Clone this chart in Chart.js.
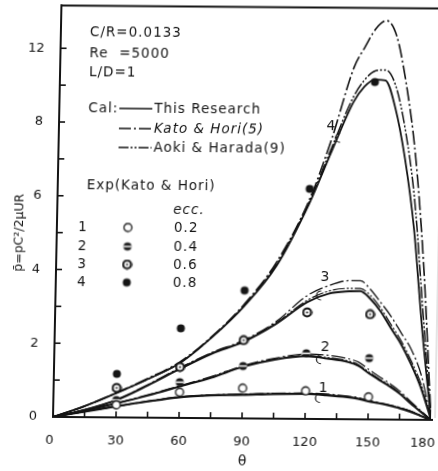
<!DOCTYPE html>
<html><head><meta charset="utf-8">
<script src="https://cdn.jsdelivr.net/npm/chart.js@4.4.0/dist/chart.umd.min.js"></script>
<style>
html,body{margin:0;padding:0;background:#fff;overflow:hidden;width:438px;height:471px;}
#wrap{position:absolute;left:0;top:0;width:438px;height:471px;transform-origin:53px 417px;transform:matrix(1,0.0079,-0.0205,1,0,0);}
canvas{display:block;}
</style></head><body>
<div id="wrap"><canvas id="c" width="438" height="471"></canvas></div>
<script>
// ---- data (theta in degrees, dimensionless pressure) ----
const thetaGrid = [0,15,30,45,60,75,90,105,120,130,140,145,150,155,160,165,170,175,180];

const thisResE1 = [0,0.15,0.30,0.44,0.56,0.62,0.64,0.67,0.68,0.65,0.60,0.56,0.49,0.44,0.38,0.31,0.22,0.11,0];
const katoE1    = [0,0.15,0.30,0.45,0.57,0.63,0.66,0.69,0.70,0.68,0.63,0.59,0.52,0.46,0.40,0.33,0.24,0.12,0];
const aokiE1    = [0,0.15,0.30,0.44,0.56,0.62,0.65,0.68,0.69,0.66,0.61,0.57,0.50,0.45,0.39,0.32,0.23,0.11,0];

const thisResE2 = [0,0.18,0.38,0.60,0.85,1.10,1.40,1.60,1.70,1.64,1.55,1.45,1.25,1.07,0.90,0.70,0.45,0.22,0];
const katoE2    = [0,0.18,0.39,0.62,0.87,1.13,1.43,1.64,1.76,1.73,1.64,1.55,1.35,1.16,0.98,0.77,0.50,0.25,0];
const aokiE2    = [0,0.18,0.38,0.61,0.86,1.11,1.41,1.62,1.72,1.67,1.58,1.48,1.28,1.10,0.93,0.72,0.47,0.23,0];

const thisResE3 = [0,0.20,0.47,0.88,1.33,1.75,2.08,2.56,3.17,3.40,3.47,3.48,3.27,2.93,2.48,2.05,1.50,0.85,0];
const katoE3    = [0,0.20,0.48,0.90,1.36,1.78,2.12,2.62,3.35,3.62,3.76,3.76,3.52,3.17,2.80,2.35,1.90,1.20,0];
const aokiE3    = [0,0.20,0.47,0.89,1.35,1.77,2.10,2.59,3.22,3.47,3.55,3.55,3.36,3.02,2.58,2.14,1.60,0.95,0];

const thisResE4 = [0,0.30,0.66,1.05,1.49,2.20,3.05,4.15,5.85,7.25,8.60,9.02,9.22,9.20,8.45,7.10,5.20,2.40,0];
const aokiE4    = [0,0.30,0.66,1.05,1.50,2.20,3.07,4.20,5.90,7.35,8.75,9.20,9.45,9.48,9.05,7.85,6.00,3.00,0];
const katoE4    = [0,0.30,0.67,1.07,1.52,2.22,3.10,4.25,5.95,7.60,9.55,10.10,10.60,10.82,10.40,9.10,7.20,4.20,0];

const expTheta = [30,60,90,120,150];
const expE1 = [0.34,0.70,0.82,0.76,0.61];
const expE2 = [0.47,0.97,1.42,1.78,1.66];
const expE3 = [0.80,1.38,2.12,2.89,2.85];
const expE4 = [1.18,2.43,3.47,6.24,9.15];

const xTickValues = [0,30,60,90,120,150,180];
const xTickLabels = ['0','30','60','90','120','150','180'];
const yTickValues = [0,2,4,6,8,10];
const yTickLabels = ['0','2','4','6','8','12'];

const eccNumbers = ['1','2','3','4'];
const eccValues = ['0.2','0.4','0.6','0.8'];
const curveLabelTheta = [128.3,128.9,128.1,129.5];
const curveLabelValue = [0.84,1.95,3.84,7.95];
const bracketTheta = [126.0,126.1,125.5,133.0];
const bracketValue = [0.57,1.62,3.35,7.63];

// ---- styles ----
const INK = '#141414';
const SANS = '"DejaVu Sans", sans-serif';
const DASH_KATO = [14,3,2,3];
const DASH_AOKI = [12,2,2,2,2,2];

function marker(kind){
  const c=document.createElement('canvas'); c.width=11; c.height=11;
  const g=c.getContext('2d'); const cx=5.5, cy=5.5, r=4;
  g.beginPath(); g.arc(cx,cy,r,0,2*Math.PI);
  if(kind===0){ g.fillStyle='#fff'; g.fill(); g.lineWidth=1.3; g.strokeStyle=INK; g.stroke(); }
  else if(kind===1){ g.fillStyle=INK; g.fill(); g.fillStyle='#fff'; g.fillRect(1.5,4.7,8,1.6); }
  else if(kind===2){ g.fillStyle='#fff'; g.fill(); g.lineWidth=2.2; g.strokeStyle=INK; g.stroke();
                     g.beginPath(); g.arc(cx,cy,1,0,2*Math.PI); g.fillStyle=INK; g.fill(); }
  else { g.fillStyle=INK; g.fill(); }
  return c;
}
const markers=[marker(0),marker(1),marker(2),marker(3)];

function lineDs(vals, dash, width){
  return {type:'line', data: thetaGrid.map((t,i)=>({x:t,y:vals[i]})), borderColor:INK,
    borderWidth:width, borderDash:dash, pointRadius:0, fill:false,
    cubicInterpolationMode:'monotone', order:2};
}
function expDs(vals, k){
  return {type:'scatter', data: expTheta.map((t,i)=>({x:t,y:vals[i]})), pointStyle:markers[k],
    pointRadius:4.5, showLine:false, order:0};
}

const datasets=[
  lineDs(thisResE1,[],2.2), lineDs(katoE1,DASH_KATO,1.2), lineDs(aokiE1,DASH_AOKI,1.2),
  lineDs(thisResE2,[],2.0), lineDs(katoE2,DASH_KATO,1.2), lineDs(aokiE2,DASH_AOKI,1.2),
  lineDs(thisResE3,[],2.0), lineDs(katoE3,DASH_KATO,1.3), lineDs(aokiE3,DASH_AOKI,1.2),
  lineDs(thisResE4,[],1.8), lineDs(aokiE4,DASH_AOKI,1.5), lineDs(katoE4,DASH_KATO,1.6),
  expDs(expE1,0), expDs(expE2,1), expDs(expE3,2), expDs(expE4,3)
];

function seg(ctx,x1,y1,x2,y2){ctx.beginPath();ctx.moveTo(x1,y1);ctx.lineTo(x2,y2);ctx.stroke();}

const decor={
  id:'decor',
  afterDraw(chart){
    const ctx=chart.ctx, a=chart.chartArea, xs=chart.scales.x, ys=chart.scales.y;
    ctx.save();
    ctx.strokeStyle=INK; ctx.fillStyle=INK; ctx.lineCap='butt';
    try{ ctx.letterSpacing='0px'; }catch(e){}
    // frame
    ctx.lineWidth=2;
    seg(ctx,a.left,a.top-1,a.left,a.bottom+1);
    seg(ctx,a.left-1,a.bottom,a.right+2,a.bottom);
    seg(ctx,a.left-1,a.top,438,a.top);
    ctx.lineWidth=1; ctx.strokeStyle='#c8c8c8';
    seg(ctx,435,145,435,a.bottom-2);
    ctx.strokeStyle=INK; ctx.lineWidth=1.6;
    // inward ticks
    for(let v=1; v<=10; v++){ const y=ys.getPixelForValue(v); seg(ctx,a.left,y,a.left+6,y); }
    for(let t=15; t<180; t+=15){ const x=xs.getPixelForValue(t); seg(ctx,x,a.bottom,x,a.bottom-6); }
    // tick labels
    ctx.font='13px '+SANS; ctx.textBaseline='middle';
    ctx.textAlign='right';
    yTickValues.forEach((v,i)=>{ ctx.fillText(yTickLabels[i], 37, ys.getPixelForValue(v)); });
    ctx.textAlign='center';
    xTickValues.forEach((v,i)=>{
      let x=xs.getPixelForValue(v);
      if(v===0) x-=3; if(v===180) x-=8;
      ctx.fillText(xTickLabels[i], x, 441);
    });
    ctx.font='14px '+SANS;
    ctx.fillText('θ', xs.getPixelForValue(90)+1, 460);
    // y title
    ctx.save(); ctx.translate(16,233); ctx.rotate(-Math.PI/2);
    ctx.font='12.5px '+SANS; ctx.fillText('p̄=pC²/2μUR',0,0); ctx.restore();
    // info text
    try{ ctx.letterSpacing='1px'; }catch(e){}
    ctx.textAlign='left'; ctx.font='13.5px '+SANS;
    ctx.fillText('C/R=0.0133',82,32);
    ctx.fillText('Re  =5000',82,53);
    ctx.fillText('L/D=1',82,72);
    ctx.fillText('Cal:',82,108);
    ctx.lineWidth=1.5;
    seg(ctx,113,108,146,108);
    ctx.setLineDash([12,3,2,3]); seg(ctx,113,128,146,128);
    ctx.setLineDash([10,2,2,2,2,2]); seg(ctx,113,147,146,147);
    ctx.setLineDash([]);
    ctx.fillText('This Research',148,108);
    ctx.font='italic 13.5px '+SANS;
    ctx.fillText('Kato & Hori(5)',148,128);
    ctx.font='13.5px '+SANS;
    ctx.fillText('Aoki & Harada(9)',148,147);
    ctx.fillText('Exp(Kato & Hori)',82,185);
    ctx.font='italic 13.5px '+SANS;
    ctx.fillText('ecc.',169,209);
    ctx.font='13.5px '+SANS;
    const rows=[227,246,264,282];
    rows.forEach((y,i)=>{
      ctx.textAlign='center'; ctx.fillText(eccNumbers[i],79,y);
      ctx.drawImage(markers[i],124-5.5,y-5.5);
      ctx.textAlign='left'; ctx.fillText(eccValues[i],170,y);
    });
    // curve labels
    try{ ctx.letterSpacing='0px'; }catch(e){}
    ctx.textAlign='center'; ctx.font='14px '+SANS; ctx.lineWidth=1.2;
    curveLabelTheta.forEach((t,i)=>{
      ctx.fillText(eccNumbers[i], xs.getPixelForValue(t), ys.getPixelForValue(curveLabelValue[i]));
      const bx=xs.getPixelForValue(bracketTheta[i]), by=ys.getPixelForValue(bracketValue[i]);
      ctx.beginPath(); ctx.arc(bx+2,by,4.5,Math.PI*0.5,Math.PI*1.5); ctx.stroke();
    });
    ctx.restore();
  }
};

new Chart(document.getElementById('c'),{
  data:{datasets},
  options:{
    responsive:false, animation:false, devicePixelRatio:1,
    layout:{padding:{left:0,right:7,top:4,bottom:0}},
    plugins:{legend:{display:false}, tooltip:{enabled:false}},
    scales:{
      x:{type:'linear', min:0, max:180, grid:{display:false}, border:{display:false},
         ticks:{display:false, stepSize:15}, afterFit(s){s.height=54;}},
      y:{type:'linear', min:0, max:11.16, grid:{display:false}, border:{display:false},
         ticks:{display:false, stepSize:1}, afterFit(s){s.width=53;}}
    }
  },
  plugins:[decor]
});
</script></body></html>
